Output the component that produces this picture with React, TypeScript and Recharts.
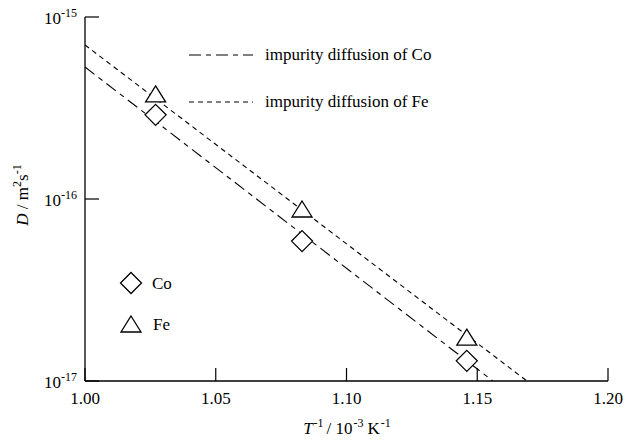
import React from "react";
import { ComposedChart, XAxis, YAxis, Line, Scatter } from "recharts";

const xTicks = [1.0, 1.05, 1.1, 1.15, 1.2];
const yTicks = [1e-17, 1e-16, 1e-15];

const coPoints = [
  { x: 1.027, y: 2.9e-16 },
  { x: 1.083, y: 5.87e-17 },
  { x: 1.146, y: 1.29e-17 },
];
const fePoints = [
  { x: 1.027, y: 3.73e-16 },
  { x: 1.083, y: 8.7e-17 },
  { x: 1.146, y: 1.72e-17 },
];
const coFit = [
  { x: 1.0, y: 5.31e-16 },
  { x: 1.156, y: 1e-17 },
];
const feFit = [
  { x: 1.0, y: 7.02e-16 },
  { x: 1.169, y: 1e-17 },
];

const FONT = "'Liberation Serif', 'DejaVu Serif', serif";
const CO_DASH = "12 5 5 5";
const FE_DASH = "5 4";

const Diamond = (props: any) => {
  const { cx, cy } = props;
  if (cx == null || cy == null) return null;
  const r = 10.5;
  return (
    <polygon
      points={`${cx},${cy - r} ${cx + r},${cy} ${cx},${cy + r} ${cx - r},${cy}`}
      fill="#fff"
      stroke="#000"
      strokeWidth={1.3}
    />
  );
};

const Triangle = (props: any) => {
  const { cx, cy } = props;
  if (cx == null || cy == null) return null;
  const w = 10;
  const h = 16;
  return (
    <polygon
      points={`${cx},${cy - h / 2 - 1} ${cx + w},${cy + h / 2 - 1} ${cx - w},${cy + h / 2 - 1}`}
      fill="#fff"
      stroke="#000"
      strokeWidth={1.3}
    />
  );
};

const BottomTick = (props: any) => {
  const { x, y, payload } = props;
  return (
    <g>
      <line x1={x} y1={y} x2={x} y2={y - 13} stroke="#000" strokeWidth={1.2} />
      <text x={x} y={y + 23} textAnchor="middle" fontFamily={FONT} fontSize={17} fill="#000">
        {Number(payload.value).toFixed(2)}
      </text>
    </g>
  );
};

const TopTick = (props: any) => {
  const { x, y } = props;
  return <line x1={x} y1={y} x2={x} y2={y + 13} stroke="#000" strokeWidth={1.2} />;
};

const LeftTick = (props: any) => {
  const { x, y, payload } = props;
  const e = Math.round(Math.log10(payload.value));
  return (
    <g>
      <line x1={x} y1={y} x2={x + 14} y2={y} stroke="#000" strokeWidth={1.2} />
      <text x={x - 8} y={y + 7} textAnchor="end" fontFamily={FONT} fontSize={17} fill="#000">
        10
        <tspan fontSize={12} dy={-7}>
          {`-${Math.abs(e)}`}
        </tspan>
      </text>
    </g>
  );
};

const RightTick = (props: any) => {
  const { x, y } = props;
  return <line x1={x} y1={y} x2={x - 14} y2={y} stroke="#000" strokeWidth={1.2} />;
};

export default function App() {
  const W = 625;
  const H = 440;
  return (
    <div style={{ position: "absolute", left: 0, top: 0, width: W, height: H }}>
      <ComposedChart width={W} height={H} margin={{ top: 17, right: 17, bottom: 0, left: 0 }}>
        <XAxis
          xAxisId="b"
          type="number"
          dataKey="x"
          domain={[1.0, 1.2]}
          ticks={xTicks}
          allowDataOverflow
          height={59}
          tickSize={0}
          tickMargin={0}
          tick={<BottomTick />}
          axisLine={{ stroke: "#000", strokeWidth: 1.3 }}
          tickLine={false}
          interval={0}
        />
        <XAxis
          xAxisId="t"
          orientation="top"
          type="number"
          dataKey="x"
          domain={[1.0, 1.2]}
          ticks={xTicks.slice(1, 4)}
          allowDataOverflow
          height={0}
          tickSize={0}
          tickMargin={0}
          tick={<TopTick />}
          axisLine={{ stroke: "#000", strokeWidth: 1.3 }}
          tickLine={false}
          interval={0}
        />
        <YAxis
          yAxisId="l"
          type="number"
          dataKey="y"
          scale="log"
          domain={[1e-17, 1e-15]}
          ticks={yTicks}
          allowDataOverflow
          width={85}
          tickSize={0}
          tickMargin={0}
          tick={<LeftTick />}
          axisLine={{ stroke: "#000", strokeWidth: 1.3 }}
          tickLine={false}
          interval={0}
        />
        <YAxis
          yAxisId="r"
          orientation="right"
          type="number"
          dataKey="y"
          scale="log"
          domain={[1e-17, 1e-15]}
          ticks={[1e-16]}
          allowDataOverflow
          width={0}
          tickSize={0}
          tickMargin={0}
          tick={<RightTick />}
          axisLine={{ stroke: "#000", strokeWidth: 1.3 }}
          tickLine={false}
          interval={0}
        />
        <Line
          xAxisId="b"
          yAxisId="l"
          data={coFit}
          dataKey="y"
          stroke="#000"
          strokeWidth={1.1}
          strokeDasharray={CO_DASH}
          dot={false}
          activeDot={false}
          isAnimationActive={false}
        />
        <Line
          xAxisId="b"
          yAxisId="l"
          data={feFit}
          dataKey="y"
          stroke="#000"
          strokeWidth={1.1}
          strokeDasharray={FE_DASH}
          dot={false}
          activeDot={false}
          isAnimationActive={false}
        />
        <Scatter
          xAxisId="b"
          yAxisId="l"
          data={coPoints}
          dataKey="y"
          shape={<Diamond />}
          isAnimationActive={false}
        />
        <Scatter
          xAxisId="b"
          yAxisId="l"
          data={fePoints}
          dataKey="y"
          shape={<Triangle />}
          isAnimationActive={false}
        />
      </ComposedChart>
      <svg
        width={W}
        height={H}
        style={{ position: "absolute", left: 0, top: 0, pointerEvents: "none", overflow: "visible" }}
      >
        {/* line legend */}
        <line x1={189} y1={55} x2={253} y2={55} stroke="#000" strokeWidth={1.1} strokeDasharray={CO_DASH} />
        <text x={265} y={60} fontFamily={FONT} fontSize={17} fill="#000">
          impurity diffusion of Co
        </text>
        <line x1={189} y1={102} x2={253} y2={102} stroke="#000" strokeWidth={1.1} strokeDasharray={FE_DASH} />
        <text x={265} y={107} fontFamily={FONT} fontSize={17} fill="#000">
          impurity diffusion of Fe
        </text>
        {/* marker legend */}
        <Diamond cx={131} cy={283} />
        <text x={152} y={289} fontFamily={FONT} fontSize={17} fill="#000">
          Co
        </text>
        <Triangle cx={131} cy={325} />
        <text x={153} y={330} fontFamily={FONT} fontSize={17} fill="#000">
          Fe
        </text>
        {/* axis titles */}
        <text x={347} y={434} textAnchor="middle" fontFamily={FONT} fontSize={17} fill="#000">
          <tspan fontStyle="italic">T</tspan>
          <tspan fontSize={12} dy={-7} dx={1}>-1</tspan>
          <tspan dy={7} dx={3}>/ 10</tspan>
          <tspan fontSize={12} dy={-7} dx={1}>-3</tspan>
          <tspan dy={7} dx={4}>K</tspan>
          <tspan fontSize={12} dy={-7} dx={1}>-1</tspan>
        </text>
        <text
          x={28}
          y={195}
          textAnchor="middle"
          fontFamily={FONT}
          fontSize={17}
          fill="#000"
          transform="rotate(-90 28 195)"
        >
          <tspan fontStyle="italic">D</tspan>
          <tspan> / m</tspan>
          <tspan fontSize={12} dy={-7}>2</tspan>
          <tspan dy={7}>s</tspan>
          <tspan fontSize={12} dy={-7}>-1</tspan>
        </text>
      </svg>
    </div>
  );
}
